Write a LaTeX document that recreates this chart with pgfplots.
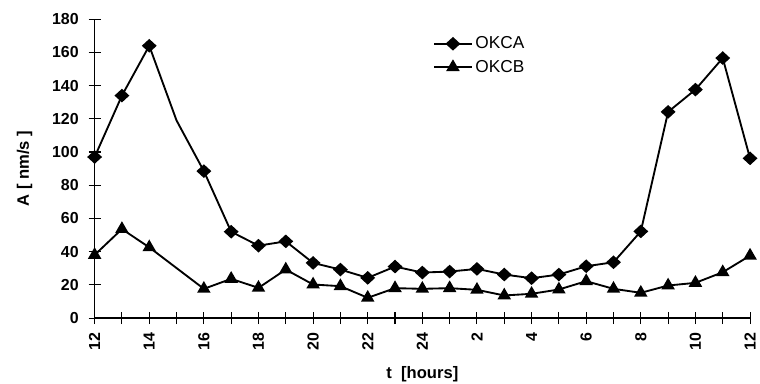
\documentclass[border=0pt]{standalone}
\usepackage{fontspec}
\setmainfont{Liberation Sans}
\usepackage{pgfplots}
\pgfplotsset{compat=1.18}
\begin{document}
\begin{tikzpicture}[x=0.75pt,y=0.75pt]
\begin{axis}[
  at={(0,0)}, anchor=south west,
  scale only axis, width=493.5pt, height=225pt,
  xmin=0, xmax=24, ymin=0, ymax=180,
  axis lines*=left,
  axis line style={line width=1pt},
  xtick={0,...,24},
  xticklabels={12,,14,,16,,18,,20,,22,,24,,2,,4,,6,,8,,10,,12},
  ytick={0,20,...,180},
  tick align=center,
  major tick length=9pt,
  tick style={black, line width=0.8pt},
  x tick label style={rotate=90, anchor=east},
  xticklabel shift=3pt,
  yticklabel shift=4pt,
  ticklabel style={font=\fontsize{12}{14}\selectfont\bfseries},
  /pgf/number format/assume math mode=true,
  xlabel={t\ \ [hours]},
  ylabel={A [ nm/s ]},
  xlabel style={yshift=-5pt},
  ylabel shift=8pt,
  label style={font=\fontsize{12.5}{14}\selectfont\bfseries},
  legend style={draw=none, fill=none, at={(rel axis cs:0.51,0.96)}, anchor=north west, font=\fontsize{13}{15}\selectfont, row sep=3pt},
  legend cell align=left,
  legend image code/.code={\draw[mark=none] (0cm,0cm) -- (1cm,0cm); \draw plot coordinates {(0.5cm,0cm)};},
  clip=false,
]
\addplot[black, line width=1.4pt, mark=diamond*, mark size=4.2pt, mark options={xscale=1.45, solid},
  mark indices={1,2,3,5,6,7,8,9,10,11,12,13,14,15,16,17,18,19,20,21,22,23,24,25}]
  coordinates {(0,97)(1,134)(2,164)(3,119)(4,88.5)(5,52)(6,43.6)(7,46.2)(8,33.2)(9,29.2)(10,24.2)(11,31)(12,27.4)(13,28)(14,29.6)(15,26.2)(16,24)(17,26.2)(18,31.2)(19,33.6)(20,52.2)(21,124.2)(22,137.6)(23,156.6)(24,96.2)};
\addlegendentry{OKCA}
\addplot[black, line width=1.4pt, mark=triangle*, mark size=4.5pt, mark options={solid}]
  coordinates {(0,38)(1,53.6)(2,42.6)(4,17.6)(5,23.6)(6,18.2)(7,29.2)(8,20.2)(9,19.2)(10,12.2)(11,18)(12,17.6)(13,18)(14,17)(15,13.6)(16,14.6)(17,17.2)(18,22.2)(19,17.6)(20,15.2)(21,19.6)(22,21.2)(23,27.6)(24,37.6)};
\addlegendentry{OKCB}
\end{axis}
\pgfresetboundingbox
\path (-95,-65.7) rectangle (668,319.3);
\end{tikzpicture}
\end{document}
